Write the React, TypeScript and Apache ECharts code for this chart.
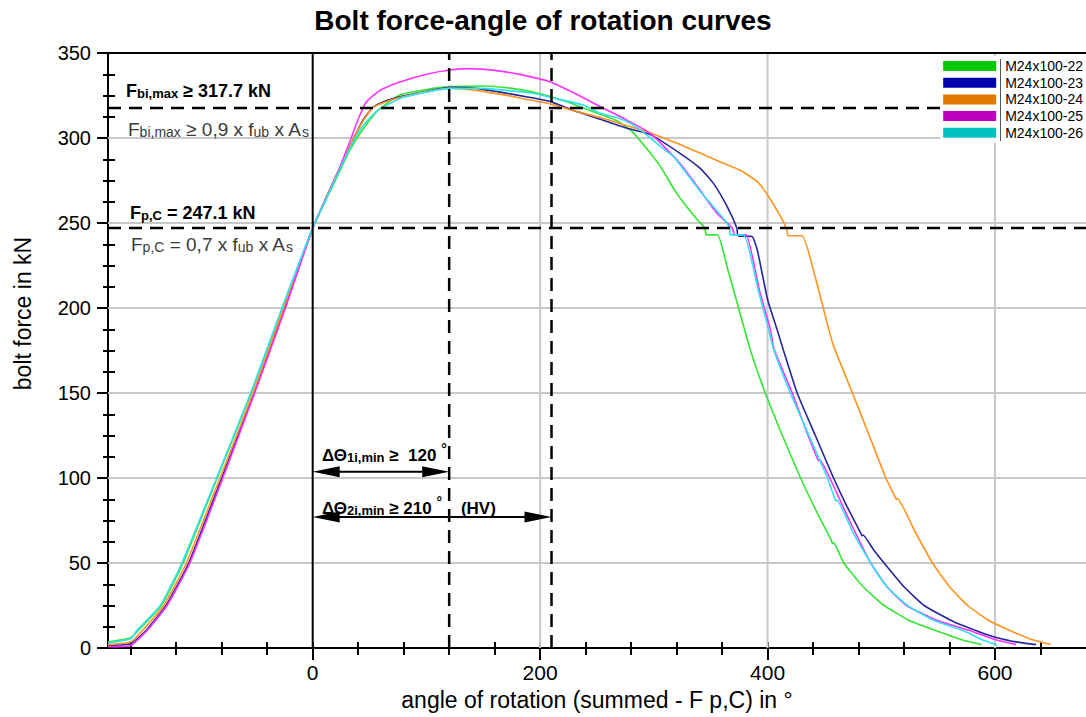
import React, { useEffect, useRef } from 'react';
import * as echarts from 'echarts';

const fontFamily = '"Liberation Sans", Arial, Helvetica, sans-serif';

const seriesNames = ['M24x100-22', 'M24x100-23', 'M24x100-24', 'M24x100-25', 'M24x100-26'];
const lineColors = ['#33e633', '#26269a', '#ff931f', '#ff30ff', '#30e0f0'];
const legendColors = ['#00c800', '#0000b0', '#e07800', '#c000c0', '#00c0c0'];

const m22: number[][] = [
  [-180, 3.5], [-160, 6], [-154, 10], [-133, 25], [-114, 50], [-84, 100], [-54, 150], [-26.5, 200], [0, 247],
  [20, 275], [32, 292], [44, 305], [57.6, 316.5], [76.7, 325.3], [100, 328.5], [120.7, 330.2], [150, 330.6],
  [175, 329.2], [194, 327], [223.5, 321.4], [238, 317.6], [253, 314], [268, 310], [282, 303], [297, 291],
  [306, 283], [320, 267.5], [338, 252], [345, 247], [346, 243], [356, 243], [364.5, 224], [385, 175],
  [398, 150], [413, 125], [429, 100], [444, 79], [456, 63.5], [457, 61.5], [458, 62], [467, 50], [484, 36],
  [502.5, 25], [525, 16], [549, 10], [570, 5], [588, 2],
];
const m23: number[][] = [
  [-180, 1.5], [-160, 2.5], [-147, 10], [-129, 25], [-109, 50], [-80, 100], [-51.5, 150], [-24.5, 200], [0, 247],
  [20, 277], [32.6, 295], [44.3, 310.6], [53, 318], [65, 322], [76.7, 324.3], [100, 327.5], [120.7, 329.8],
  [140, 329.5], [164.8, 327], [190, 324], [209, 321.4], [230, 316], [253, 311], [275, 306], [297, 302],
  [323, 291], [341, 282], [352.7, 273], [364.5, 259.6], [373, 247], [374, 242.5], [386.5, 242], [391, 234],
  [400, 205], [408.5, 187], [414, 175], [426, 150], [442, 125], [458, 100], [470, 83], [482, 67.5], [483, 66],
  [484, 66.5], [493, 58], [502.5, 50], [520, 36], [537.6, 25], [565, 15], [596.5, 7], [615, 4], [636, 2],
];
const m24: number[][] = [
  [-180, 2], [-160, 3.5], [-150, 10], [-131, 25], [-111, 50], [-81.5, 100], [-52.5, 150], [-25.5, 200], [0, 247],
  [20, 277], [32.6, 295], [44.3, 310], [53, 318], [65, 321.5], [76.7, 323.8], [100, 327.3], [120.7, 329.3],
  [140, 328.3], [164.8, 325.8], [190, 322.5], [209, 320], [230, 316], [253, 312], [275, 307.5], [297, 303],
  [320, 297], [341, 291], [360, 285.5], [376, 281], [391, 274.3], [400, 266.5], [411.5, 253.7], [417, 246],
  [418, 242.5], [430.5, 242.5], [441, 220.4], [454, 187], [458.4, 177], [474.6, 150], [490, 124], [504, 100],
  [512, 89], [513, 87.5], [514, 88], [530, 68], [545, 50], [560, 36], [576, 25], [595, 16], [614, 10],
  [630, 5.5], [649, 2],
];
const m25: number[][] = [
  [-180, 0.8], [-160, 1.5], [-146, 10], [-128, 25], [-108, 50], [-79, 100], [-51, 150], [-24, 200], [0, 247],
  [21, 278], [32.6, 297.8], [40, 311], [47, 321], [55, 326], [61.8, 329], [76.7, 333], [100, 337.5],
  [120.7, 340], [138, 340.8], [160, 339.8], [185, 337], [209, 333], [230, 326.5], [253, 318.4], [275, 311],
  [297, 302.7], [323, 285], [341, 269], [355, 256], [369, 247], [371, 243], [381, 243], [393, 210],
  [402.6, 187], [405.5, 176], [421.7, 150], [435, 126], [444, 111], [445, 110.2], [446, 110.6], [454.7, 100],
  [472, 75], [490.7, 50], [505, 36], [522, 25], [550, 16], [579, 10], [600, 5], [618.5, 2],
];
const m26: number[][] = [
  [-180, 3], [-160, 5.5], [-155, 10], [-134, 25], [-115, 50], [-84.5, 100], [-54.5, 150], [-27, 200], [0, 247],
  [20, 276], [32, 293], [44, 307], [56, 315.5], [76.7, 323.3], [100, 327], [120.7, 329.2], [150, 329.2],
  [170, 328], [194, 326.3], [215, 323], [238, 319.4], [253, 314.5], [270, 311.5], [282, 307.6], [297, 300],
  [305.7, 295], [317.4, 289], [341, 268.4], [366.8, 247], [367, 243], [379, 243], [392, 210], [401, 187],
  [405.5, 175.3], [420, 150], [437, 124], [452.6, 100], [459, 88], [460, 86.5], [461, 87], [475, 68],
  [490.7, 50], [505, 36], [523, 25], [547, 16], [573, 10], [588, 5], [602, 1.8],
];
const seriesData = [m22, m23, m24, m25, m26];

const xMin = -180;
const xMax = 680;
const yMin = 0;
const yMax = 350;
const xLabelValues = [0, 200, 400, 600];
const xMinorTicks = [-160, -120, -80, -40, 0, 40, 80, 120, 160, 200, 240, 280, 320, 360, 400, 440, 480, 520, 560, 600, 640];
const xGridValues = [200, 400, 600];
const yGridValues = [50, 100, 150, 200, 250, 300];

const fbiMax = 317.7;
const fpC = 247.1;
const theta1 = 120;
const theta2 = 210;
const arrowLevels = [103.7, 77];

const gridLineData = [
  ...xGridValues.map((x) => [x, yMin, x, yMax]),
  ...yGridValues.map((y) => [xMin, y, xMax, y]),
];
// [x1, y1, x2, y2, dashed]
const refLineData = [
  [0, yMin, 0, yMax, 0],
  [theta1, yMin, theta1, yMax, 1],
  [theta2, yMin, theta2, yMax, 1],
  [xMin, fbiMax, xMax, fbiMax, 1],
  [xMin, fpC, xMax, fpC, 1],
  [xMin, yMax, xMax, yMax, 0],
];
const arrowData = [
  [0, theta1, arrowLevels[0]],
  [0, theta2, arrowLevels[1]],
];

const rich: any = {
  b: { fontSize: 18, fontWeight: 'bold', fill: '#000', lineHeight: 22, fontFamily, verticalAlign: 'bottom' },
  bs: { fontSize: 13, fontWeight: 'bold', fill: '#000', lineHeight: 13, fontFamily, verticalAlign: 'bottom' },
  n: { fontSize: 19, fill: '#3a3a3a', lineHeight: 22, fontFamily, verticalAlign: 'bottom' },
  ns: { fontSize: 14, fill: '#3a3a3a', lineHeight: 13, fontFamily, verticalAlign: 'bottom' },
  d: { fontSize: 17, fontWeight: 'bold', fill: '#000', lineHeight: 22, fontFamily, verticalAlign: 'bottom' },
  ds: { fontSize: 13, fontWeight: 'bold', fill: '#000', lineHeight: 13, fontFamily, verticalAlign: 'bottom' },
  sup: { fontSize: 14, fontWeight: 'bold', fill: '#000', lineHeight: 12, fontFamily, verticalAlign: 'top' },
};

function textEl(x: number, y: number, text: string) {
  return { type: 'text', x, y, z: 20, style: { text, rich, align: 'left', verticalAlign: 'middle' } };
}

export default function App() {
  const ref = useRef<HTMLDivElement>(null);
  useEffect(() => {
    if (!ref.current) return;
    const chart = echarts.init(ref.current, undefined, { renderer: 'svg' });
    const tickStyle = { color: '#000', width: 2 };
    const option: any = {
      animation: false,
      backgroundColor: '#fff',
      title: {
        text: 'Bolt force-angle of rotation curves',
        left: 'center',
        top: 1,
        textStyle: { fontSize: 28, fontWeight: 'bold', color: '#000', fontFamily },
      },
      grid: { left: 108, right: 0, top: 53, bottom: 69, containLabel: false },
      legend: {
        data: seriesNames.map((n, i) => ({ name: n, itemStyle: { color: legendColors[i] } })),
        orient: 'vertical',
        right: 0,
        top: 56,
        icon: 'rect',
        itemWidth: 53,
        itemHeight: 10,
        itemGap: 2.7,
        backgroundColor: '#fff',
        padding: [3, 3, 3, 3],
        selectedMode: false,
        itemStyle: { borderWidth: 0 },
        textStyle: { fontSize: 14, color: '#000', fontFamily, lineHeight: 14, padding: [0, 0, 0, 4] },
      },
      xAxis: [
        {
          type: 'value', min: xMin, max: xMax, position: 'bottom',
          axisLine: { show: true, onZero: false, lineStyle: tickStyle },
          axisTick: { show: true, customValues: xLabelValues, length: 12, lineStyle: tickStyle },
          axisLabel: { customValues: xLabelValues, fontSize: 21, color: '#000', margin: 14, fontFamily },
          splitLine: { show: false },
          name: 'angle of rotation (summed - F p,C) in °',
          nameLocation: 'middle',
          nameGap: 40,
          nameTextStyle: { fontSize: 23, color: '#000', fontFamily },
        },
        {
          type: 'value', min: xMin, max: xMax, position: 'bottom',
          axisLine: { show: false, onZero: false },
          axisTick: { show: true, customValues: xMinorTicks, length: 7, lineStyle: tickStyle },
          axisLabel: { show: false },
          splitLine: { show: false },
        },
        {
          type: 'value', min: xMin, max: xMax, position: 'bottom',
          axisLine: { show: false, onZero: false },
          axisTick: { show: true, inside: true, customValues: xMinorTicks, length: 6, lineStyle: tickStyle },
          axisLabel: { show: false },
          splitLine: { show: false },
        },
      ],
      yAxis: [
        {
          type: 'value', min: yMin, max: yMax, interval: 50, position: 'left',
          axisLine: { show: true, onZero: false, lineStyle: tickStyle },
          axisTick: { show: true, length: 11, lineStyle: tickStyle },
          minorTick: { show: true, splitNumber: 4, length: 5, lineStyle: tickStyle },
          axisLabel: { fontSize: 20, color: '#000', margin: 17, fontFamily },
          splitLine: { show: false },
          name: 'bolt force in kN',
          nameLocation: 'middle',
          nameGap: 74,
          nameTextStyle: { fontSize: 23, color: '#000', fontFamily, padding: [0, 0, 0, 74] },
        },
        {
          type: 'value', min: yMin, max: yMax, interval: 50, position: 'left',
          axisLine: { show: false, onZero: false },
          axisTick: { show: true, inside: true, length: 12, lineStyle: tickStyle },
          minorTick: { show: true, splitNumber: 4, length: 7, lineStyle: tickStyle },
          axisLabel: { show: false },
          splitLine: { show: false },
        },
      ],
      series: [
        {
          type: 'custom',
          name: 'grid',
          silent: true,
          z: 1,
          xAxisIndex: 0,
          yAxisIndex: 0,
          encode: { x: [0, 2], y: [1, 3] },
          data: gridLineData,
          renderItem: (params: any, api: any) => {
            const a = api.coord([api.value(0), api.value(1)]);
            const b = api.coord([api.value(2), api.value(3)]);
            return {
              type: 'line',
              shape: { x1: a[0], y1: a[1], x2: b[0], y2: b[1] },
              style: { stroke: '#c8c8c8', lineWidth: 2 },
            };
          },
        },
        ...seriesNames.map((name, i) => ({
          type: 'line',
          name,
          data: seriesData[i],
          xAxisIndex: 0,
          yAxisIndex: 0,
          showSymbol: false,
          symbol: 'none',
          smooth: 0.15,
          z: 2,
          silent: true,
          lineStyle: { color: lineColors[i], width: 1.6 },
          itemStyle: { color: lineColors[i] },
        })),
        {
          type: 'custom',
          name: 'refs',
          silent: true,
          z: 3,
          xAxisIndex: 0,
          yAxisIndex: 0,
          encode: { x: [0, 2], y: [1, 3] },
          data: refLineData,
          renderItem: (params: any, api: any) => {
            const a = api.coord([api.value(0), api.value(1)]);
            const b = api.coord([api.value(2), api.value(3)]);
            const dashed = api.value(4) === 1;
            return {
              type: 'line',
              shape: { x1: a[0], y1: a[1], x2: b[0], y2: b[1] },
              style: { stroke: '#000', lineWidth: dashed ? 2.5 : 2, lineDash: dashed ? [13, 8] : null },
            };
          },
        },
        {
          type: 'custom',
          name: 'arrows',
          silent: true,
          z: 4,
          xAxisIndex: 0,
          yAxisIndex: 0,
          encode: { x: [0, 1], y: [2] },
          data: arrowData,
          renderItem: (params: any, api: any) => {
            const y = api.value(2);
            const a = api.coord([api.value(0), y]);
            const b = api.coord([api.value(1), y]);
            const L = 27;
            const H = 5.5;
            return {
              type: 'group',
              children: [
                { type: 'line', shape: { x1: a[0] + L - 2, y1: a[1], x2: b[0] - L + 2, y2: b[1] }, style: { stroke: '#000', lineWidth: 2 } },
                { type: 'polygon', shape: { points: [[a[0], a[1]], [a[0] + L, a[1] - H], [a[0] + L, a[1] + H]] }, style: { fill: '#000' } },
                { type: 'polygon', shape: { points: [[b[0], b[1]], [b[0] - L, b[1] - H], [b[0] - L, b[1] + H]] }, style: { fill: '#000' } },
              ],
            };
          },
        },
      ],
      graphic: [
        textEl(126, 89, `{b|F}{bs|bi,max}{b| ≥ ${fbiMax} kN}`),
        textEl(128, 128, '{n|F}{ns|bi,max}{n| ≥ 0,9 x f}{ns|ub}{n| x A}{ns|s}'),
        textEl(130, 211, `{b|F}{bs|p,C}{b| = ${fpC} kN}`),
        textEl(131, 243, '{n|F}{ns|p,C}{n| = 0,7 x f}{ns|ub}{n| x A}{ns|s}'),
        textEl(322, 453, `{d|ΔΘ}{ds|1i,min}{d| ≥  ${theta1} }{sup|°}`),
        textEl(322, 506, `{d|ΔΘ}{ds|2i,min}{d| ≥ ${theta2} }{sup|°}{d|    (HV)}`),
        {
          type: 'line',
          z: 30,
          shape: { x1: 1000.5, y1: 59, x2: 1000.5, y2: 141 },
          style: { stroke: '#555', lineWidth: 1 },
        },
      ],
    };
    chart.setOption(option);
    return () => chart.dispose();
  }, []);
  return <div ref={ref} style={{ position: 'absolute', left: 0, top: 0, width: '1086px', height: '717px' }} />;
}
